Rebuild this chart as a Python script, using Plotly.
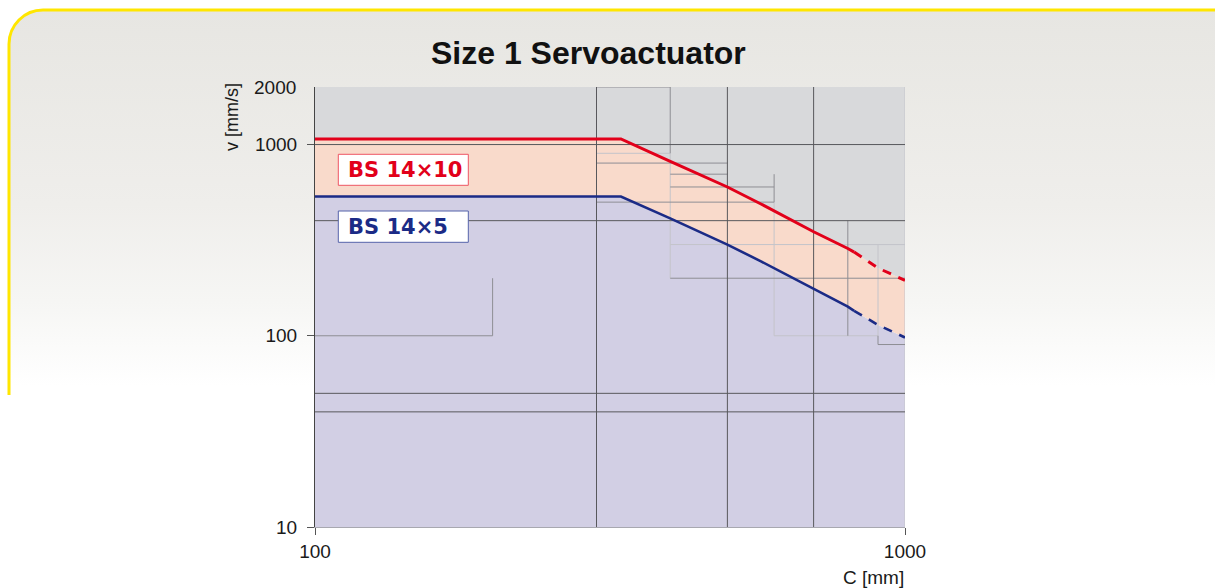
import base64
import math
import plotly.graph_objects as go

# Stroke length C [mm] and max linear speed v [mm/s] for the two ball screws
stroke_mm = [100, 330, 400, 500, 570, 700, 800, 820, 900, 1000]
v_bs14x10 = [1070, 1070, 817, 600, 489, 350, 286, 274, 226, 195]
v_bs14x5 = [535, 535, 411, 300, 245, 176, 142, 135, 114, 98]
solid_until = 820  # beyond this stroke the curves are drawn dashed

x_ticks = [100, 1000]
y_ticks = [10, 100, 1000]
x_range = [100, 1000]
y_range = [10, 2000]

RED = "#e2001a"
BLUE = "#1b2b86"
FONT = "Liberation Sans"

W, H = 1215, 588
L, R, T, B = 315, 310, 87, 61
PW, PH = W - L - R, H - T - B

fig = go.Figure()

# --- filled speed regions -------------------------------------------------
fig.add_trace(go.Scatter(x=stroke_mm, y=[y_range[0]] * len(stroke_mm),
                         mode="lines", line=dict(width=0), hoverinfo="skip"))
fig.add_trace(go.Scatter(x=stroke_mm, y=v_bs14x5, mode="lines",
                         line=dict(width=0), fill="tonexty",
                         fillcolor="#d2cfe4", hoverinfo="skip"))
fig.add_trace(go.Scatter(x=stroke_mm, y=v_bs14x10, mode="lines",
                         line=dict(width=0), fill="tonexty",
                         fillcolor="#f9dacb", hoverinfo="skip"))
fig.add_trace(go.Scatter(x=stroke_mm, y=[y_range[1]] * len(stroke_mm),
                         mode="lines", line=dict(width=0), fill="tonexty",
                         fillcolor="#d8d9db", hoverinfo="skip"))


# --- grid segments drawn over the fills -----------------------------------
def segs(items):
    xs, ys = [], []
    for kind, pos, a, b in items:
        if kind == "v":
            xs += [pos, pos, None]
            ys += [a, b, None]
        else:
            xs += [a, b, None]
            ys += [pos, pos, None]
    return xs, ys


faint = [
    ("v", 400, 200, 900), ("v", 600, 100, 500), ("h", 300, 400, 1000),
    ("h", 100, 600, 900), ("v", 900, 100, 300), ("h", 900, 300, 400),
    ("v", 1000, 10, 2000),
]
grey = [
    ("v", 400, 900, 2000), ("h", 2000, 300, 400), ("v", 600, 500, 700),
    ("v", 200, 100, 200), ("h", 100, 100, 200), ("h", 800, 300, 500),
    ("h", 700, 400, 500), ("h", 600, 400, 600), ("h", 500, 300, 600),
    ("h", 200, 400, 1000), ("v", 800, 100, 400), ("h", 90, 900, 1000),
    ("v", 900, 90, 100),
]
dark = [("v", c, 10, 2000) for c in (300, 500, 700)] + \
       [("h", v, 100, 1000) for v in (1000, 400, 50, 40)]

for items, col in ((faint, "#c4c4ca"), (grey, "#8e8e94"), (dark, "#58585c")):
    gx, gy = segs(items)
    fig.add_trace(go.Scatter(x=gx, y=gy, mode="lines",
                             line=dict(color=col, width=1), hoverinfo="skip"))

# --- speed curves ---------------------------------------------------------
def split(xs, ys):
    solid = [(x, y) for x, y in zip(xs, ys) if x <= solid_until]
    dashed = [(x, y) for x, y in zip(xs, ys) if x >= solid_until]
    return solid, dashed


for vals, col, w in ((v_bs14x5, BLUE, 2.6), (v_bs14x10, RED, 3)):
    solid, dashed = split(stroke_mm, vals)
    fig.add_trace(go.Scatter(x=[p[0] for p in solid], y=[p[1] for p in solid],
                             mode="lines", line=dict(color=col, width=w),
                             hoverinfo="skip"))
    fig.add_trace(go.Scatter(x=[p[0] for p in dashed], y=[p[1] for p in dashed],
                             mode="lines",
                             line=dict(color=col, width=w, dash="9px,8px"),
                             hoverinfo="skip"))

# --- panel background (gradient + yellow rim) -----------------------------
svg = f"""<svg xmlns='http://www.w3.org/2000/svg' width='{W}' height='{H}' viewBox='0 0 {W} {H}'>
<defs><linearGradient id='g' x1='0' y1='0' x2='0' y2='1'>
<stop offset='0' stop-color='#e7e6e2'/>
<stop offset='0.3' stop-color='#efeeeb'/>
<stop offset='0.45' stop-color='#f6f6f4'/>
<stop offset='0.58' stop-color='#ffffff'/>
</linearGradient></defs>
<rect x='9' y='10' width='{W + 60}' height='{H + 60}' rx='34' ry='34' fill='url(#g)'/>
<path d='M 9 395 L 9 44 A 34 34 0 0 1 43 10 L {W + 5} 10' fill='none' stroke='#ffe600' stroke-width='3'/>
</svg>"""
uri = "data:image/svg+xml;base64," + base64.b64encode(svg.encode()).decode()


def px_x(p):
    return (p - L) / PW


def px_y(p):
    return (H - B - p) / PH


fig.add_layout_image(dict(source=uri, xref="paper", yref="paper",
                          x=px_x(0), y=px_y(0), sizex=W / PW, sizey=H / PH,
                          xanchor="left", yanchor="top", sizing="stretch",
                          layer="below"))

# --- series label boxes ---------------------------------------------------
for (top, bot, border) in ((154.3, 185.3, "#ee5563"), (211, 242.3, "#5563aa")):
    fig.add_shape(type="rect", xref="paper", yref="paper",
                  x0=px_x(338.3), x1=px_x(468.3), y0=px_y(bot), y1=px_y(top),
                  fillcolor="white", line=dict(color=border, width=1),
                  layer="above")

fig.add_annotation(text="<b>BS 14×10</b>", xref="paper", yref="paper",
                   x=px_x(346), y=px_y(169.8), xanchor="left", yanchor="middle",
                   showarrow=False,
                   font=dict(family="DejaVu Sans", size=21, color=RED))
fig.add_annotation(text="<b>BS 14×5</b>", xref="paper", yref="paper",
                   x=px_x(346), y=px_y(226.6), xanchor="left", yanchor="middle",
                   showarrow=False,
                   font=dict(family="DejaVu Sans", size=21, color=BLUE))

# --- titles ---------------------------------------------------------------
fig.add_annotation(text="<b>Size 1 Servoactuator</b>", xref="paper", yref="paper",
                   x=px_x(588), y=px_y(53), xanchor="center", yanchor="middle",
                   showarrow=False,
                   font=dict(family=FONT, size=32, color="#111111"))
fig.add_annotation(text="v [mm/s]", xref="paper", yref="paper",
                   x=px_x(232), y=px_y(117), xanchor="center", yanchor="middle",
                   textangle=-90, showarrow=False,
                   font=dict(family=FONT, size=18, color="#1a1a1a"))
fig.add_annotation(text="C [mm]", xref="paper", yref="paper",
                   x=px_x(906), y=px_y(577), xanchor="right", yanchor="middle",
                   showarrow=False,
                   font=dict(family=FONT, size=19, color="#1a1a1a"))
fig.add_annotation(text="2000", xref="paper", yref="y",
                   x=px_x(298), y=math.log10(y_range[1]), xanchor="right",
                   yanchor="middle", showarrow=False,
                   font=dict(family=FONT, size=19, color="#1a1a1a"))

fig.update_layout(
    width=W, height=H,
    margin=dict(l=L, r=R, t=T, b=B, pad=0),
    paper_bgcolor="white",
    plot_bgcolor="rgba(0,0,0,0)",
    showlegend=False,
    xaxis=dict(type="log", range=[math.log10(v) for v in x_range],
               tickvals=x_ticks, ticktext=[str(v) for v in x_ticks],
               ticks="outside", ticklen=7, tickcolor="#555555",
               showgrid=False, zeroline=False, showline=True,
               linecolor="#a8a8b0", linewidth=1,
               tickfont=dict(family=FONT, size=19, color="#1a1a1a")),
    yaxis=dict(type="log", range=[math.log10(v) for v in y_range],
               tickvals=y_ticks, ticktext=[str(v) for v in y_ticks],
               ticks="outside", ticklen=7, tickcolor="#555555",
               ticklabelstandoff=6,
               showgrid=False, zeroline=False, showline=True,
               linecolor="#444444", linewidth=1,
               tickfont=dict(family=FONT, size=19, color="#1a1a1a")),
)

fig.write_html("out.html")
